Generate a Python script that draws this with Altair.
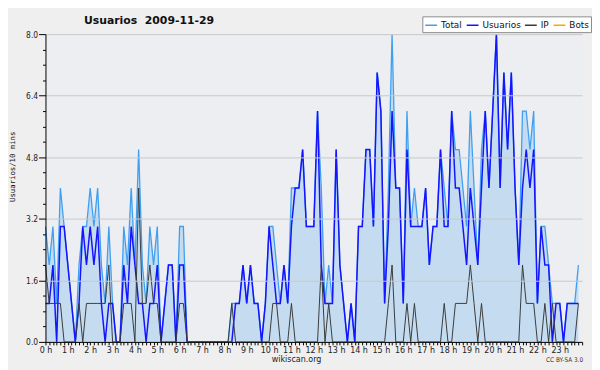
import altair as alt
import pandas as pd

# 10-minute slots over the day
minutes = list(range(0, 1440, 10))

total = [3, 2, 3, 1, 4, 3, 2, 1, 0, 2,
         3, 3, 4, 3, 4, 2, 1, 3, 1, 0,
         0, 3, 2, 4, 2, 5, 2, 1, 3, 2,
         3, 0, 1, 2, 2, 0, 3, 3, 0, 0,
         0, 0, 0, 0, 0, 0, 0, 0, 0, 0,
         1, 1, 1, 2, 1, 2, 1, 1, 0, 1,
         3, 3, 2, 1, 2, 1, 4, 4, 4, 5,
         3, 3, 3, 6, 4, 1, 2, 1, 5, 2,
         1, 0, 1, 0, 3, 3, 5, 5, 3, 7,
         6, 1, 4, 8, 4, 4, 1, 6, 3, 4,
         3, 3, 4, 2, 3, 3, 5, 4, 3, 6,
         5, 5, 4, 3, 6, 4, 2, 5, 6, 4,
         6, 8, 4, 7, 5, 7, 4, 2, 6, 6,
         5, 6, 1, 3, 3, 2, 1, 1, 1, 0,
         1, 1, 1, 2]

usuarios = [1, 1, 2, 0, 3, 3, 2, 1, 0, 1,
            3, 2, 3, 2, 3, 1, 0, 1, 1, 0,
            0, 2, 1, 3, 2, 1, 1, 0, 1, 1,
            2, 0, 1, 2, 2, 0, 2, 2, 0, 0,
            0, 0, 0, 0, 0, 0, 0, 0, 0, 0,
            0, 1, 1, 2, 1, 2, 1, 1, 0, 1,
            3, 2, 1, 1, 2, 1, 3, 4, 4, 5,
            3, 3, 3, 6, 2, 1, 1, 1, 5, 2,
            1, 0, 1, 0, 3, 3, 5, 5, 3, 7,
            6, 1, 3, 6, 4, 4, 1, 5, 3, 3,
            3, 3, 4, 2, 3, 3, 5, 3, 3, 6,
            4, 4, 3, 2, 4, 3, 2, 4, 6, 4,
            6, 8, 4, 7, 5, 7, 4, 2, 4, 5,
            4, 5, 1, 3, 2, 2, 0, 1, 1, 0,
            1, 1, 1, 1]

ip = [2, 1, 1, 1, 1, 0, 0, 0, 0, 1,
      0, 1, 1, 1, 1, 1, 1, 2, 0, 0,
      0, 1, 1, 1, 0, 4, 1, 1, 2, 1,
      1, 0, 0, 0, 0, 0, 1, 1, 0, 0,
      0, 0, 0, 0, 0, 0, 0, 0, 0, 0,
      1, 0, 0, 0, 0, 0, 0, 0, 0, 0,
      0, 1, 1, 0, 0, 0, 1, 0, 0, 0,
      0, 0, 0, 0, 2, 0, 1, 0, 0, 0,
      0, 0, 0, 0, 0, 0, 0, 0, 0, 0,
      0, 0, 1, 2, 0, 0, 0, 1, 0, 1,
      0, 0, 0, 0, 0, 0, 0, 1, 0, 0,
      1, 1, 1, 1, 2, 1, 0, 1, 0, 0,
      0, 0, 0, 0, 0, 0, 0, 0, 2, 1,
      1, 1, 0, 0, 1, 0, 1, 0, 0, 0,
      0, 0, 0, 1]

series_names = ["Total", "Usuarios", "IP", "Bots"]
series_colors = ["#3f9ff0", "#1414ff", "#3a3a3a", "#ffa500"]

chart_title = "Usuarios\u00a0\u00a02009-11-29"
credit_text = "CC BY-SA 3.0"

x_ticks = [m / 60 for m in range(0, 1441, 10)]
y_ticks = [round(0.4 * k, 1) for k in range(21)]

hours = [m / 60 for m in minutes]
long_rows = []
for name, vals in (("Total", total), ("Usuarios", usuarios), ("IP", ip)):
    for h, v in zip(hours, vals):
        long_rows.append({"h": h, "series": name, "value": v})
df = pd.DataFrame(long_rows)

major_y = "abs(datum.value / 1.6 - round(datum.value / 1.6)) < 0.001"
major_x = "abs(datum.value - round(datum.value)) < 0.001"

x_axis = alt.Axis(
    values=x_ticks,
    labelExpr=f"({major_x} && datum.value < 23.9) ? round(datum.value) + ' h' : ''",
    labelFont="DejaVu Sans Condensed", labelFontSize=9, labelColor="#222222",
    labelFlush=False, labelOverlap=False, labelBound=False, labelPadding=1,
    tickSize=3, tickColor="black", tickWidth=1,
    domainColor="black", domainWidth=1, grid=False,
    title="wikiscan.org", titleFont="DejaVu Sans Condensed", titleFontSize=9,
    titleFontWeight="normal", titleColor="#222222",
    titleX=254, titleY=17, titleAlign="center", titleBaseline="middle",
    zindex=1,
)

y_axis = alt.Axis(
    values=y_ticks,
    labelExpr=f"{major_y} ? format(datum.value, '.1f') : ''",
    labelFont="DejaVu Sans Condensed", labelFontSize=8.5, labelColor="#222222",
    labelOverlap=False, labelFlush=False, labelBound=False, labelPadding=1,
    tickSize={"condition": {"test": major_y, "value": 7}, "value": 3},
    tickColor="black", tickWidth=1,
    domainColor="black", domainWidth=1,
    grid=True, gridColor="#c8c8c8", gridWidth=1,
    gridOpacity={"condition": {"test": major_y, "value": 1}, "value": 0},
    title="Usuarios/10 mins", titleFont="DejaVu Sans Mono", titleFontSize=7.4,
    titleFontWeight="normal", titleColor="#111111",
    titleX=-33, titleY=134, titleAlign="center", titleBaseline="middle", titleAngle=270,
    zindex=1,
)

x_enc = alt.X("h:Q", scale=alt.Scale(domain=[0, 24], nice=False, zero=False), axis=x_axis)
y_enc = alt.Y("value:Q", scale=alt.Scale(domain=[0, 8], nice=False), axis=y_axis)

legend = alt.Legend(
    title=None, orient="none", legendX=382, legendY=-18, direction="horizontal",
    symbolType="stroke", symbolSize=144, symbolStrokeWidth=1.5,
    labelFont="DejaVu Sans", labelFontSize=9, labelColor="#111111",
    labelOffset=3, columnPadding=1, padding=2,
    fillColor="white", strokeColor="#8a8a8a",
)
color_enc = alt.Color("series:N", scale=alt.Scale(domain=series_names, range=series_colors),
                      legend=legend)

base = alt.Chart(df)

area = base.transform_filter("datum.series == 'Total'").mark_area(
    color="#c5dcf0", opacity=1).encode(x=x_enc, y=y_enc)

line_total = base.transform_filter("datum.series == 'Total'").mark_line(
    strokeWidth=1.3).encode(x=x_enc, y=y_enc, color=color_enc)
line_users = base.transform_filter("datum.series == 'Usuarios'").mark_line(
    strokeWidth=1.5).encode(x=x_enc, y=y_enc, color=color_enc)
line_ip = base.transform_filter("datum.series == 'IP'").mark_line(
    strokeWidth=1).encode(x=x_enc, y=y_enc, color=color_enc)

title_mark = alt.Chart(pd.DataFrame({"t": [chart_title]})).mark_text(
    align="left", baseline="alphabetic", font="DejaVu Sans", fontSize=11,
    fontWeight="bold", color="#111111"
).encode(text="t:N", x=alt.value(39), y=alt.value(-10))

credit = alt.Chart(pd.DataFrame({"t": [credit_text]})).mark_text(
    align="right", baseline="middle", font="DejaVu Sans Condensed", fontSize=6.5, color="#333333"
).encode(text="t:N", x=alt.value(545), y=alt.value(330))

chart = alt.layer(area, line_total, line_users, line_ip, title_mark, credit).properties(
    width=544,
    height=312,
    autosize=alt.AutoSizeParams(type="none"),
    padding={"left": 38, "top": 24, "right": 10, "bottom": 26},
    background="#efefef",
).configure_view(fill="#eceef1", stroke="transparent")

chart.save("out.html", embed_options={"renderer": "svg", "actions": False})
